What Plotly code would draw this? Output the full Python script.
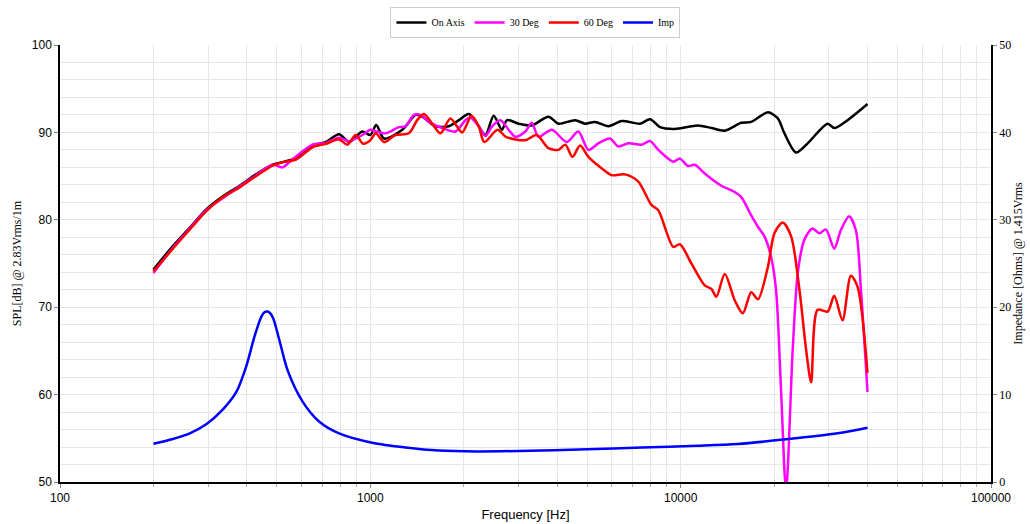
import plotly.graph_objects as go

# On Axis
f_on = [200, 231, 262, 296, 335, 379, 428, 484, 522, 576, 651, 719, 793, 855, 942, 1000, 1045, 1107, 1268,
        1400, 1470, 1622, 1791, 1929, 2077, 2208, 2350, 2497, 2655, 2755, 3006, 3313, 3750, 4038, 4570, 4921,
        5300, 5850, 6460, 7400, 7970, 8580, 9580, 11370, 12560, 13870, 15680, 16880, 19100, 20560, 21590,
        23530, 25650, 29760, 31250, 34500, 40000]
db_on = [74.3, 77.0, 79.1, 81.2, 82.7, 83.9, 85.2, 86.3, 86.6, 87.1, 88.5, 88.9, 89.8, 88.9, 90.1, 89.7, 90.85,
         89.3, 90.3, 92.0, 91.8, 90.7, 90.7, 91.4, 92.1, 91.0, 89.7, 91.9, 90.3, 91.4, 91.0, 90.8, 91.8, 91.0,
         91.4, 91.0, 91.2, 90.7, 91.3, 91.0, 91.5, 90.6, 90.4, 90.8, 90.5, 90.2, 91.1, 91.2, 92.3, 91.6, 89.9,
         87.7, 88.75, 91.0, 90.5, 91.4, 93.25]

# 30 Deg
f_30 = [200, 231, 262, 296, 335, 379, 428, 484, 522, 560, 651, 719, 793, 855, 942, 1000, 1045, 1120, 1236, 1299,
        1382, 1452, 1544, 1704, 1881, 2025, 2101, 2234, 2350, 2468, 2624, 2790, 2932, 3158, 3313, 3483, 3845,
        4296, 4680, 5043, 5430, 5920, 6290, 6780, 7480, 7970, 8470, 9470, 9940, 10570, 11100, 11950, 13520,
        14740, 15680, 16880, 17740, 18620, 19550, 20290, 21060, 21860, 22960, 23840, 25020, 26610, 27970,
        29370, 31250, 32810, 34900, 36700, 38100, 40000]
db_30 = [73.9, 76.8, 79.0, 81.1, 82.5, 83.8, 85.1, 86.3, 86.0, 86.9, 88.6, 88.8, 89.4, 89.0, 89.7, 90.3, 90.1,
         89.9, 90.6, 90.7, 92.0, 92.0, 91.2, 90.5, 90.1, 91.4, 91.7, 90.7, 89.6, 90.7, 91.4, 90.3, 89.5, 90.1,
         91.1, 89.5, 90.3, 88.9, 90.1, 88.0, 88.75, 89.3, 88.4, 88.75, 88.6, 89.0, 88.0, 86.65, 87.0, 86.15,
         86.3, 85.3, 83.9, 83.3, 82.6, 80.5, 79.2, 78.1, 75.8, 72.0, 60.5, 49.0, 65.1, 73.9, 77.7, 79.0, 78.45,
         78.9, 76.7, 78.8, 80.4, 78.8, 72.0, 60.3]

# 60 Deg
f_60 = [200, 231, 262, 296, 335, 379, 428, 484, 522, 576, 651, 719, 793, 843, 897, 948, 1000, 1041, 1107, 1205,
        1331, 1416, 1489, 1582, 1683, 1812, 1977, 2118, 2234, 2330, 2570, 2735, 3158, 3436, 3750, 4038, 4250,
        4480, 4740, 5043, 5560, 6000, 6610, 7290, 8050, 8470, 9470, 9940, 10830, 11950, 12560, 13030, 13870,
        14930, 15860, 16880, 17740, 19100, 20050, 21330, 22700, 24140, 25370, 26330, 27620, 29760, 31250,
        33230, 35350, 37150, 40000]
db_60 = [74.1, 76.7, 78.9, 81.0, 82.6, 83.7, 85.0, 86.2, 86.6, 86.9, 88.3, 88.7, 89.2, 88.6, 89.7, 88.7, 89.1,
         89.9, 88.9, 89.7, 89.9, 91.4, 92.1, 91.0, 89.9, 91.6, 90.0, 91.9, 90.7, 88.9, 90.3, 89.5, 89.1, 89.7,
         88.2, 88.0, 88.6, 87.2, 88.5, 87.2, 85.9, 85.1, 85.2, 84.4, 81.7, 81.1, 76.9, 77.2, 75.0, 72.5, 72.1,
         71.2, 73.8, 70.8, 69.3, 71.7, 70.9, 74.6, 78.45, 79.7, 78.1, 72.0, 65.1, 61.4, 69.7, 69.5, 71.3, 68.5,
         73.6, 72.35, 62.5]

# Impedance
f_imp = [200, 231, 262, 296, 335, 370, 398, 423, 444, 455, 467, 484, 509, 541, 605, 685, 793, 1013, 1300, 1664,
         2200, 3000, 5000, 7500, 11370, 15280, 21860, 32060, 40000]
z_imp = [4.38, 4.92, 5.57, 6.6, 8.3, 10.3, 13.2, 16.6, 18.8, 19.4, 19.5, 18.9, 16.25, 12.8, 9.2, 6.9, 5.57, 4.5,
         3.95, 3.6, 3.5, 3.55, 3.75, 3.95, 4.15, 4.35, 4.88, 5.57, 6.2]

x_tick_vals = [100, 1000, 10000, 100000]
x_tick_text = ["100", "1000", "10000", "100000"]
x_minor = [m * 10 ** e for e in range(2, 5) for m in range(2, 10)]

SANS = "Liberation Sans, Arial, sans-serif"
SERIF = "Liberation Serif, Times New Roman, serif"
GRID = "#e6e6e6"

fig = go.Figure()
common = dict(mode="lines", line_shape="spline")
fig.add_trace(go.Scatter(x=f_on, y=db_on, name="On Axis", line=dict(color="#000000", width=2.5, smoothing=0.8), **common))
fig.add_trace(go.Scatter(x=f_30, y=db_30, name="30 Deg", line=dict(color="#FF00FF", width=2.5, smoothing=0.8), **common))
fig.add_trace(go.Scatter(x=f_60, y=db_60, name="60 Deg", line=dict(color="#FF0000", width=2.5, smoothing=0.8), **common))
fig.add_trace(go.Scatter(x=f_imp, y=z_imp, name="Imp", yaxis="y2", line=dict(color="#0000FF", width=2.5, smoothing=0.8), **common))

fig.update_layout(
    width=1030, height=524,
    margin=dict(l=60, r=39, t=45, b=42, autoexpand=False),
    paper_bgcolor="white", plot_bgcolor="white",
    showlegend=True,
    legend=dict(orientation="h", x=0.5107, xanchor="center", yref="container", y=1 - 7 / 524, yanchor="top",
                bordercolor="#cccccc", borderwidth=1, font=dict(family=SERIF, size=10, color="#000"),
                itemwidth=30, tracegroupgap=0),
    xaxis=dict(type="log", range=[2, 5], tickvals=x_tick_vals, ticktext=x_tick_text, automargin=False,
               showgrid=True, gridcolor=GRID, gridwidth=1,
               showline=True, linecolor="#000", linewidth=1.5, ticks="outside", ticklen=4, tickcolor="#888",
               minor=dict(tickvals=x_minor, showgrid=True, gridcolor=GRID, ticks="outside", ticklen=3, tickcolor="#aaa"),
               tickfont=dict(family=SANS, size=12, color="#000"),
               title=dict(text="Frequency [Hz]", font=dict(family=SANS, size=13, color="#000"), standoff=6),
               zeroline=False),
    yaxis=dict(range=[50, 100], dtick=10, tick0=50, showgrid=True, gridcolor=GRID, automargin=False,
               showline=True, linecolor="#000", linewidth=1.5, ticks="outside", ticklen=4, tickcolor="#888",
               minor=dict(dtick=2, showgrid=True, gridcolor=GRID),
               tickfont=dict(family=SANS, size=12, color="#000"),
               title=dict(text="SPL[dB] @ 2.83Vrms/1m", font=dict(family=SERIF, size=12, color="#000"), standoff=8),
               zeroline=False),
    yaxis2=dict(range=[0, 50], dtick=10, tick0=0, overlaying="y", side="right", showgrid=False, automargin=False,
                showline=True, linecolor="#000", linewidth=1.5, ticks="outside", ticklen=4, tickcolor="#888",
                tickfont=dict(family=SERIF, size=12, color="#000"),
                title=dict(text="Impedance [Ohms] @ 1.415Vrms", font=dict(family=SERIF, size=12, color="#000"), standoff=2),
                zeroline=False),
)

fig.write_html("out.html", config={"displayModeBar": False},
               post_script="document.body.style.margin='0';document.body.style.overflow='hidden';")
